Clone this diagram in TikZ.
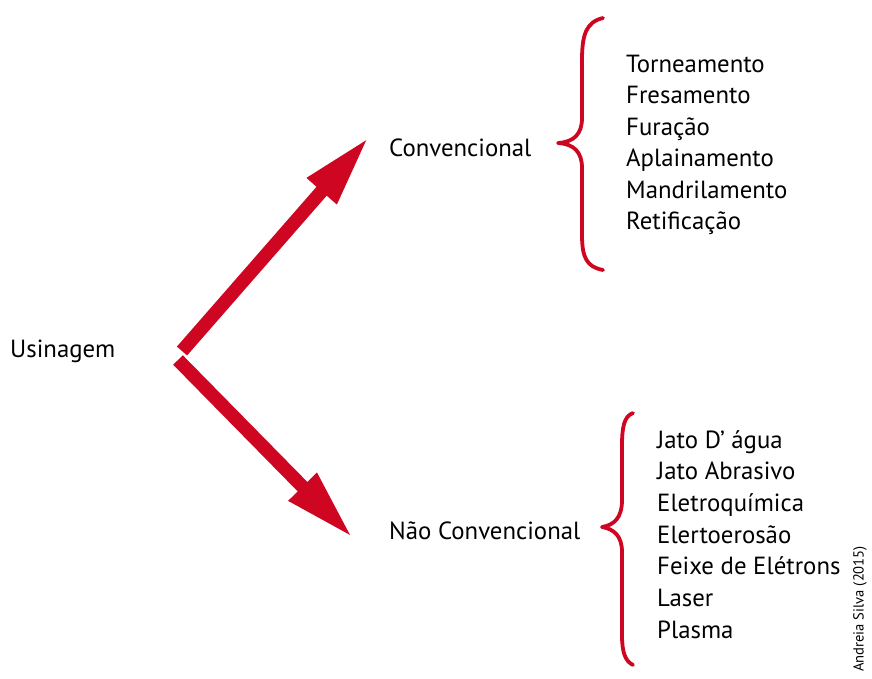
\documentclass[tikz,border=0pt]{standalone}
\usepackage{fontspec}
\setmainfont{PT Sans}
\usetikzlibrary{arrows.meta}
\definecolor{brred}{RGB}{206,6,34}
\begin{document}
\begin{tikzpicture}[x=1pt,y=-1pt,
  lbl/.style={font=\fontsize{24.8}{31}\selectfont, inner sep=0pt, anchor=base west},
  bigarrow/.style={draw=brred, line width=13.5pt, -{Triangle[length=72pt,width=36pt]}},
  brace/.style={draw=brred, line width=3.8pt, line cap=round, line join=round}]
\useasboundingbox (0,0) rectangle (872,678);
\node[lbl] (usi) at (10,357) {Usinagem};
\node[lbl] (conv) at (389,156) {Convencional};
\node[lbl] (nconv) at (389,539) {Não Convencional};
\node[lbl] (a1) at (626,72) {Torneamento};
\node[lbl] (a2) at (626,103.5) {Fresamento};
\node[lbl] (a3) at (626,135) {Furação};
\node[lbl] (a4) at (626,166.5) {Aplainamento};
\node[lbl] (a5) at (626,198) {Mandrilamento};
\node[lbl] (a6) at (626,229.5) {Retificação};
\node[lbl] (b1) at (657,448) {Jato D’ água};
\node[lbl] (b2) at (657,479.7) {Jato Abrasivo};
\node[lbl] (b3) at (657,511.4) {Eletroquímica};
\node[lbl] (b4) at (657,543.1) {Elertoerosão};
\node[lbl] (b5) at (657,574.8) {Feixe de Elétrons};
\node[lbl] (b6) at (657,606.5) {Laser};
\node[lbl] (b7) at (657,638.2) {Plasma};
\node[font=\fontsize{14.6}{16}\selectfont, rotate=90, inner sep=0pt] (cred) at (860,609) {Andreia Silva (2015)};
\coordinate (t1) at (182,351);
\coordinate (h1) at (369,137);
\coordinate (t2) at (178,360);
\coordinate (h2) at (353,538);
\draw[bigarrow] (t1) -- (h1);
\draw[bigarrow] (t2) -- (h2);
\draw[brace] (603,18) .. controls (586,22) and (582,35) .. (582,60) -- (582,118)
  .. controls (582,134) and (574,142) .. (558,143)
  .. controls (574,144) and (582,152) .. (582,168) -- (582,235)
  .. controls (582,258) and (587,267) .. (603,270);
\draw[brace] (633,413) .. controls (624,416) and (622,428) .. (622,445) -- (622,500)
  .. controls (622,518) and (614,525) .. (602,527)
  .. controls (614,529) and (622,536) .. (622,552) -- (622,635)
  .. controls (622,652) and (625,661) .. (633,665);
\end{tikzpicture}
\end{document}
